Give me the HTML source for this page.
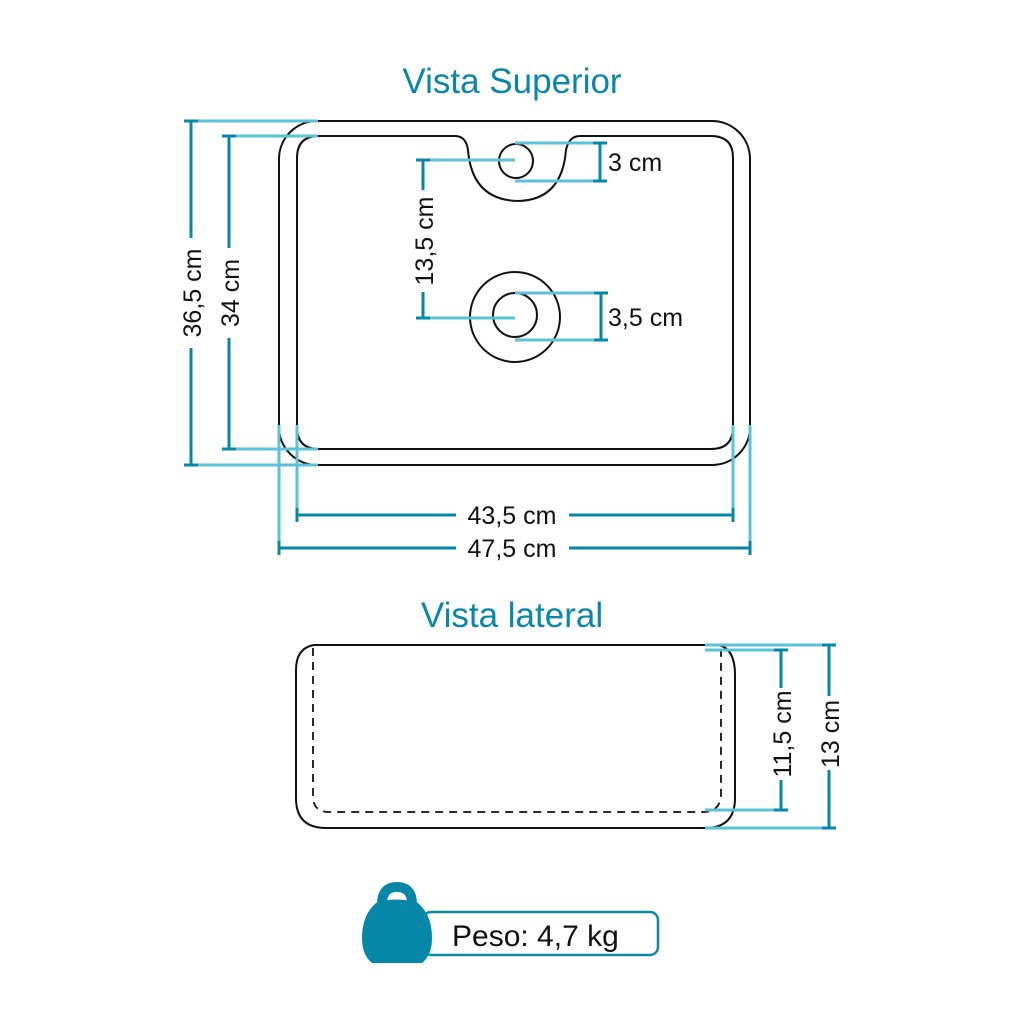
<!DOCTYPE html><html><head><style>body{margin:0;background:#fff}svg{display:block}text{font-family:"Liberation Sans",sans-serif}</style></head><body>
<svg width="1024" height="1024" viewBox="0 0 1024 1024" xmlns="http://www.w3.org/2000/svg">
<text x="512" y="93" text-anchor="middle" font-size="35" fill="#0a87a8">Vista Superior</text>
<text x="512" y="627" text-anchor="middle" font-size="35" fill="#0a87a8">Vista lateral</text>
<g fill="none" stroke="#111" stroke-width="2">
<rect x="279" y="121" width="471" height="344" rx="38"/>
<path d="M319 136 H455 Q466 136 468 150 Q472 200 518 201 Q562 200 566 150 Q569 136 580 136 H711 Q733 136 733 158 V427 Q733 449 711 449 H319 Q297 449 297 427 V158 Q297 136 319 136 Z"/>
<circle cx="516" cy="161" r="17"/>
<circle cx="515" cy="317" r="45"/>
<circle cx="515" cy="315" r="22"/>
<path d="M314 645 H718 Q735 648 735 675 V798 Q735 828 705 828 H326 Q296 828 296 798 V670 Q296 648 314 645 Z"/>
<path d="M313 648 V796 Q313 812 329 812 H704 Q718 812 721 798 V648" stroke-dasharray="8 6" stroke-width="1.8"/>
</g>
<g stroke="#5bc3d5" stroke-width="3" fill="none">
<path d="M191 121 H318 M229 136 H318 M229 449 H318 M191 465 H318"/>
<path d="M279 425 V548 M297 425 V515 M733 425 V515 M750 425 V548"/>
<path d="M423 160 H515 M423 318 H515 M515 143 H600 M515 181 H600 M515 293 H601 M515 340 H601"/>
<path d="M705 645 H829 M705 650 H781 M705 810 H781 M705 828 H829"/>
</g>
<g stroke="#0787a8" stroke-width="3" fill="none">
<path d="M191 121 V238 M191 348 V465 M184 121 H198 M184 465 H198"/>
<path d="M229 136 V248 M229 338 V449 M222 136 H236 M222 449 H236"/>
<path d="M423 160 V190 M423 292 V318 M416 160 H430 M416 318 H430"/>
<path d="M600 143 V181 M593 143 H607 M593 181 H607"/>
<path d="M601 293 V340 M594 293 H608 M594 340 H608"/>
<path d="M297 515 H456 M569 515 H733 M297 508 V522 M733 508 V522"/>
<path d="M279 548 H456 M569 548 H750 M279 541 V555 M750 541 V555"/>
<path d="M781 650 V688 M781 780 V810 M774 650 H788 M774 810 H788"/>
<path d="M829 645 V696 M829 770 V828 M822 645 H836 M822 828 H836"/>
</g>
<g font-size="25" fill="#111">
<text x="512" y="524" text-anchor="middle">43,5 cm</text>
<text x="512" y="557" text-anchor="middle">47,5 cm</text>
<text x="608" y="171">3 cm</text>
<text x="608" y="326">3,5 cm</text>
<text transform="translate(201 293) rotate(-90)" text-anchor="middle">36,5 cm</text>
<text transform="translate(239 293) rotate(-90)" text-anchor="middle">34 cm</text>
<text transform="translate(433 241) rotate(-90)" text-anchor="middle">13,5 cm</text>
<text transform="translate(791 734) rotate(-90)" text-anchor="middle">11,5 cm</text>
<text transform="translate(839 734) rotate(-90)" text-anchor="middle">13 cm</text>
</g>
<rect x="423" y="912" width="235" height="43" rx="8" fill="#fff" stroke="#0a8aa8" stroke-width="2.5"/>
<path d="M382 904 Q382 887 397 887 Q412 887 412 904" fill="none" stroke="#0787a8" stroke-width="10"/>
<path d="M376 903 Q397 896 418 903 Q432 915 432 938 Q432 955 422 963 H372 Q362 955 362 938 Q362 915 376 903 Z" fill="#0787a8"/>
<text x="452" y="946" font-size="30" fill="#111">Peso: 4,7 kg</text>
</svg></body></html>
